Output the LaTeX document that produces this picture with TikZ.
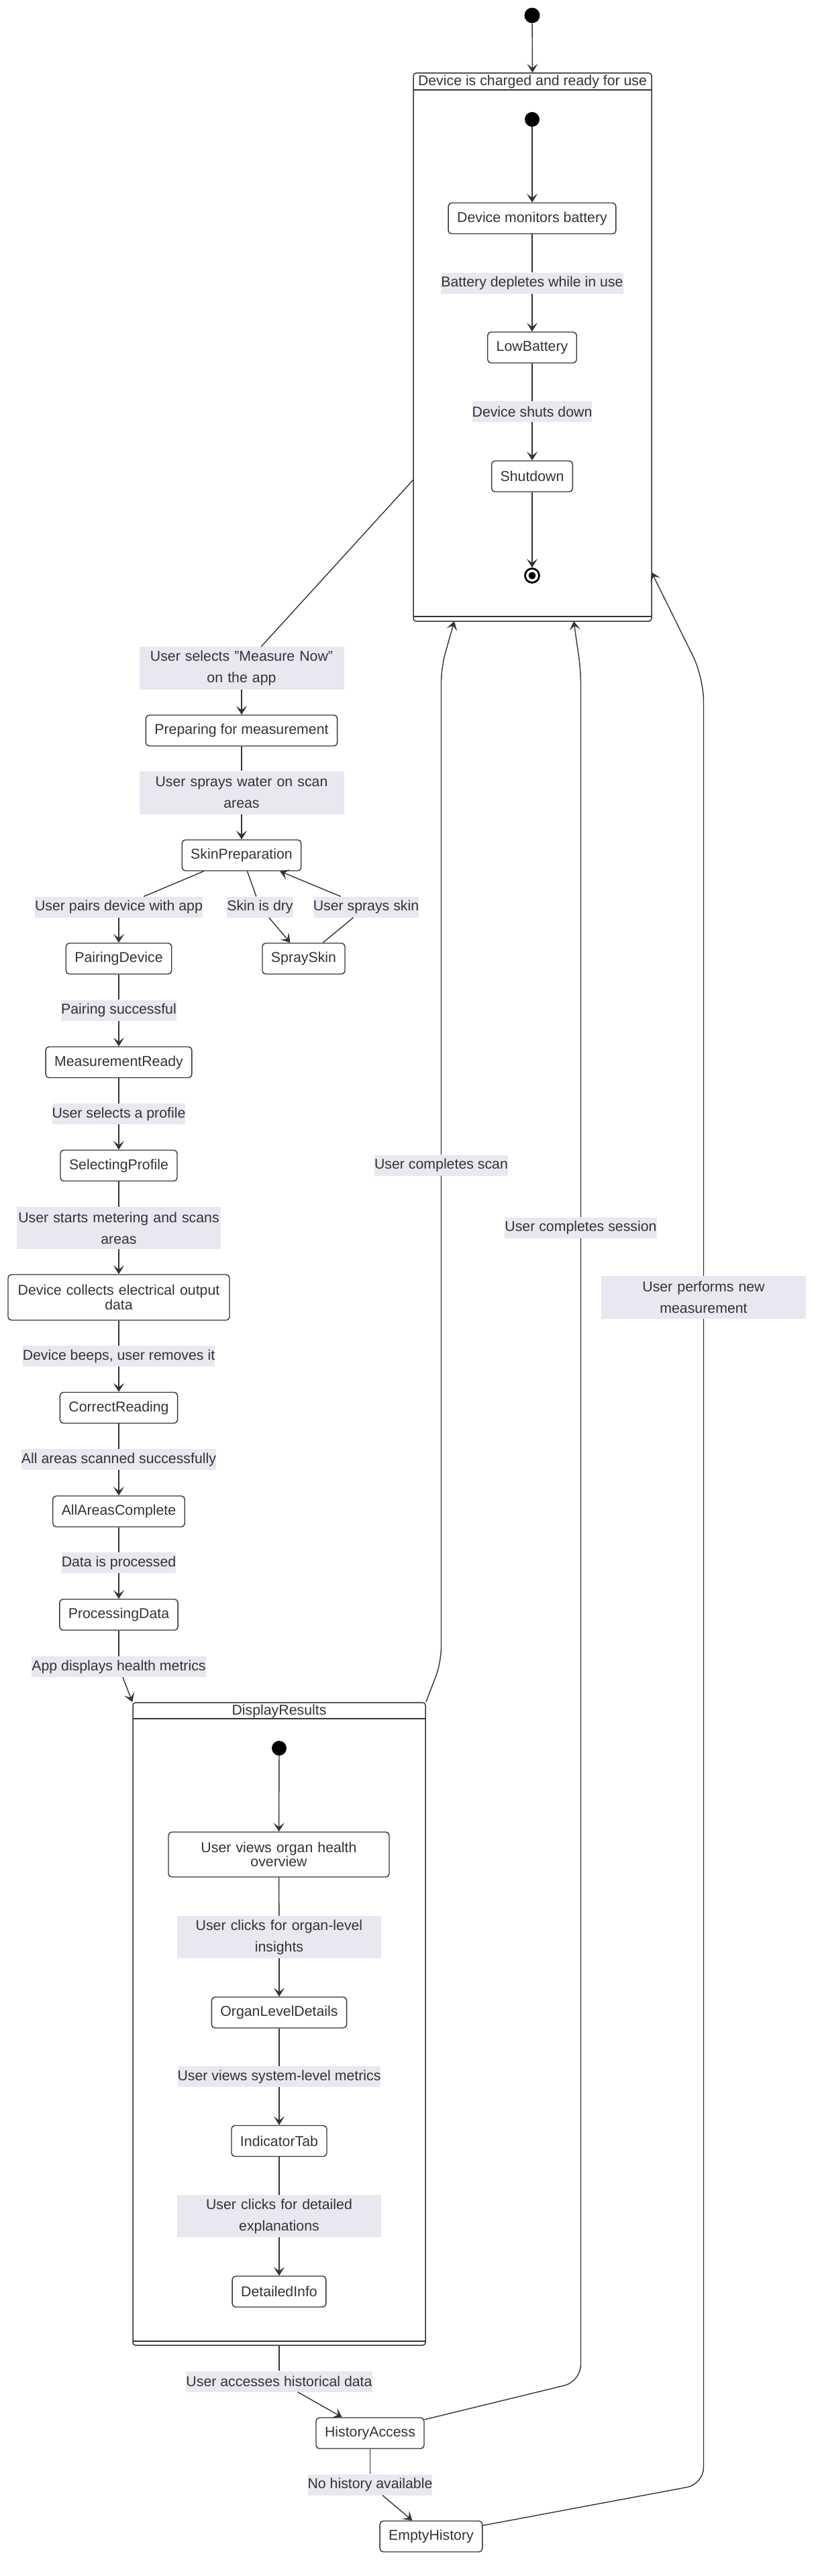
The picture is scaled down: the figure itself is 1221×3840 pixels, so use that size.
\documentclass[tikz,border=0pt]{standalone}
\usepackage{fontspec}
\setmainfont{Liberation Sans}
\usetikzlibrary{arrows.meta}
\definecolor{txt}{HTML}{333333}
\definecolor{lncol}{HTML}{333333}
\definecolor{lblbg}{HTML}{E8E8F0}
\begin{document}
\begin{tikzpicture}[x=1pt,y=-1pt,
  every node/.style={text=txt, font=\fontsize{21.3}{21.3}\selectfont},
  state/.style={draw=lncol, line width=1.4pt, rounded corners=5pt, fill=white, minimum height=46pt, inner xsep=13pt, inner ysep=0pt, align=center},
  lbl/.style={fill=lblbg, inner xsep=0pt, inner ysep=0pt, minimum height=31pt, align=center, font=\fontsize{21.3}{32}\selectfont},
  lbltwo/.style={lbl, text width=305pt, minimum height=64pt},
  comp/.style={draw=lncol, line width=1.5pt, rounded corners=4pt, inner sep=0pt},
  conn/.style={draw=lncol, line width=1.4pt},
  arr/.style={conn, -{Stealth[length=13pt,width=16pt,inset=6pt]}},
  startdot/.style={circle, fill=black, minimum size=23pt, inner sep=0pt},
  endring/.style={circle, draw=black, line width=2.8pt, fill=white, minimum size=21pt, inner sep=0pt},
]
\useasboundingbox (0,0) rectangle (1221,3840);

% ---------- composite 1 ----------
\node[startdot] (s0) at (793,23) {};
\node[comp, minimum width=355pt, minimum height=817pt] (c1) at (793.5,517.5) {};
\draw[conn] (616,134) -- (971,134);
\draw[conn] (616,919) -- (971,919);
\node (c1t) at (793.5,122) {Device is charged and ready for use};
\node[startdot, minimum size=22pt] (s1) at (793,178) {};
\node[state] (mon) at (793,325.5) {Device monitors battery};
\node[lbl] (lbat) at (793,422) {Battery depletes while in use};
\node[state] (low) at (793,518) {LowBattery};
\node[lbl] (lshut) at (793,613.5) {Device shuts down};
\node[state] (shut) at (793,710) {Shutdown};
\node[endring] (e1) at (793,858) {};
\fill[black] (e1) circle (5.5pt);

\draw[arr] (s0) -- (c1.north);
\draw[arr] (s1) -- (mon);
\draw[conn] (mon) -- (lbat);
\draw[arr] (lbat) -- (low);
\draw[conn] (low) -- (lshut);
\draw[arr] (lshut) -- (shut);
\draw[arr] (shut) -- (e1);

\coordinate (c1out) at (616,715);
\coordinate (c1scan) at (677,926);
\coordinate (c1sess) at (855,926);
\coordinate (c1new) at (971,853);

% ---------- main column ----------
\node[lbltwo] (lmeas) at (360,996) {User selects "Measure Now"\\on the app};
\node[state] (prep) at (360,1089) {Preparing for measurement};
\node[lbltwo] (lwater) at (360,1181.5) {User sprays water on scan\\areas};
\node[state] (skin) at (360,1275) {SkinPreparation};
\node[lbl] (lpair) at (177,1352) {User pairs device with app};
\node[lbl] (ldry) at (387.5,1352) {Skin is dry};
\node[lbl] (lspray) at (545.5,1352) {User sprays skin};
\node[state] (pair) at (177,1429) {PairingDevice};
\node[state] (spray) at (452.5,1429) {SpraySkin};
\node[lbl] (lpok) at (177,1506) {Pairing successful};
\node[state] (ready) at (177,1583.5) {MeasurementReady};
\node[lbl] (lprof) at (177,1660.5) {User selects a profile};
\node[state] (prof) at (177,1737.5) {SelectingProfile};
\node[lbl, text width=304pt, minimum height=63pt] (lmeter) at (177,1830.5) {User starts metering and scans\\areas};
\node[state, text width=304pt, minimum height=68pt] (coll) at (177,1934) {Device collects electrical output\\data};
\node[lbl] (lbeep) at (177,2021.5) {Device beeps, user removes it};
\node[state] (corr) at (177,2098.5) {CorrectReading};
\node[lbl] (lall) at (177,2175.5) {All areas scanned successfully};
\node[state] (allc) at (177,2253) {AllAreasComplete};
\node[lbl] (lproc) at (177,2329.5) {Data is processed};
\node[state] (procd) at (177,2407) {ProcessingData};
\node[lbl] (ldisp) at (177,2484.5) {App displays health metrics};

\draw[conn] (c1out) -- (lmeas);
\draw[arr] (lmeas) -- (prep);
\draw[conn] (prep) -- (lwater);
\draw[arr] (lwater) -- (skin);
\draw[conn] (skin) -- (lpair);
\draw[arr] (lpair) -- (pair);
\draw[conn] (skin) -- (ldry);
\draw[arr] (ldry) -- (spray);
\draw[conn] (spray) -- (lspray);
\draw[arr] (lspray) -- (skin);
\draw[conn] (pair) -- (lpok);
\draw[arr] (lpok) -- (ready);
\draw[conn] (ready) -- (lprof);
\draw[arr] (lprof) -- (prof);
\draw[conn] (prof) -- (lmeter);
\draw[arr] (lmeter) -- (coll);
\draw[conn] (coll) -- (lbeep);
\draw[arr] (lbeep) -- (corr);
\draw[conn] (corr) -- (lall);
\draw[arr] (lall) -- (allc);
\draw[conn] (allc) -- (lproc);
\draw[arr] (lproc) -- (procd);
\draw[conn] (procd) -- (ldisp);

% ---------- composite 2 ----------
\node[comp, minimum width=436pt, minimum height=958pt] (c2) at (416,3017) {};
\draw[conn] (198,2562) -- (634,2562);
\draw[conn] (198,3490) -- (634,3490);
\node (c2t) at (416,2551) {DisplayResults};
\node[startdot, minimum size=22pt] (s2) at (416,2606) {};
\node[state, text width=303pt, minimum height=67pt] (over) at (415.5,2764.5) {User views organ health\\overview};
\node[lbltwo, text width=304pt, minimum height=63pt] (lorg) at (416,2887.5) {User clicks for organ-level\\insights};
\node[state] (organ) at (416,3000) {OrganLevelDetails};
\node[lbl] (lsys) at (416,3095.5) {User views system-level metrics};
\node[state] (ind) at (416,3191.5) {IndicatorTab};
\node[lbltwo, text width=304pt, minimum height=63pt] (ldet) at (416,3303.5) {User clicks for detailed\\explanations};
\node[state] (det) at (416,3416) {DetailedInfo};

\draw[arr] (ldisp) -- (c2.north west);
\draw[arr] (s2) -- (over);
\draw[conn] (over) -- (lorg);
\draw[arr] (lorg) -- (organ);
\draw[conn] (organ) -- (lsys);
\draw[arr] (lsys) -- (ind);
\draw[conn] (ind) -- (ldet);
\draw[arr] (ldet) -- (det);

% ---------- history ----------
\node[lbl] (lhist) at (416,3550) {User accesses historical data};
\node[state] (hist) at (551.5,3627) {HistoryAccess};
\node[lbl] (lnoh) at (551.5,3704) {No history available};
\node[state] (empty) at (642.5,3781) {EmptyHistory};

\draw[conn] (c2.south) -- (lhist);
\draw[arr] (lhist) -- (hist);
\draw[conn] (hist) -- (lnoh);
\draw[arr] (lnoh) -- (empty);

% ---------- return loops ----------
\node[lbl] (lscan) at (657.5,1737) {User completes scan};
\node[lbl] (lsess) at (865.5,1830) {User completes session};
\node[lbltwo] (lnew) at (1048.5,1934) {User performs new\\measurement};

\draw[conn, rounded corners=22pt] (c2.north east) -- (657.5,2478) -- (lscan.south);
\draw[arr, rounded corners=22pt] (lscan.north) -- (657.5,995) -- (c1scan);
\draw[conn, rounded corners=25pt] (hist.14) -- (865.5,3550) -- (lsess.south);
\draw[arr, rounded corners=20pt] (lsess.north) -- (865.5,1000) -- (c1sess);
\draw[conn, rounded corners=25pt] (empty.12) -- (1048.5,3703) -- (lnew.south);
\draw[arr, rounded corners=35pt] (lnew.north) -- (1048.5,1010) -- (c1new);
\end{tikzpicture}
\end{document}
